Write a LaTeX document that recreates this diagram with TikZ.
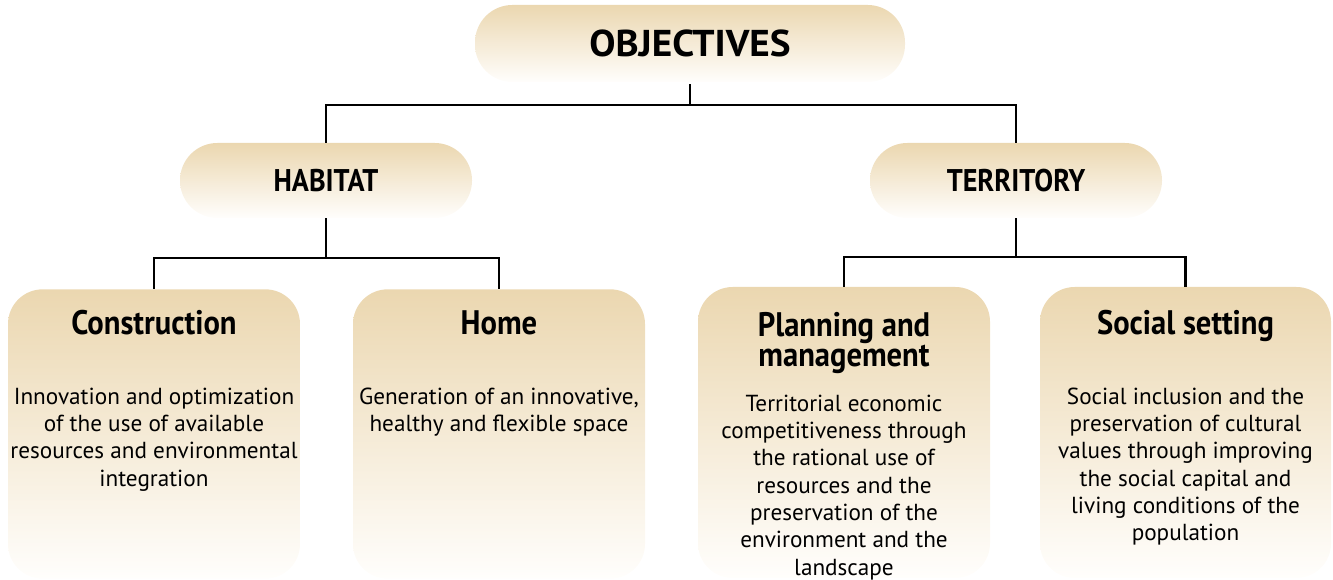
\documentclass[tikz,border=0pt]{standalone}
\usepackage{fontspec}
\setmainfont{PT Sans}
\newfontfamily\condfont{PT Sans}[FakeStretch=0.9]
\newfontfamily\widefont{PT Sans}[FakeStretch=1.05]
\definecolor{tan}{HTML}{EBD7B0}
\definecolor{tanlight}{HTML}{FFFEFC}
\begin{document}
\begin{tikzpicture}[x=0.75pt,y=-0.75pt,
  pill/.style={rectangle, rounded corners=28pt, top color=tan, bottom color=tanlight, draw=none, inner sep=0pt},
  card/.style={rectangle, rounded corners=26pt, top color=tan, bottom color=tanlight, draw=none, inner sep=0pt, minimum width=219pt, minimum height=217pt},
  pilltext/.style={font=\condfont\bfseries\fontsize{23.5}{26}\selectfont},
  titletext/.style={font=\condfont\bfseries\fontsize{25.5}{23}\selectfont, align=center, inner sep=0pt},
  desctext/.style={font=\fontsize{17.4}{20.5}\selectfont, align=center, inner sep=0pt, anchor=north},
  conn/.style={draw=black, line width=1.6pt}
]
\useasboundingbox (0,0) rectangle (1333,580);
% top level
\node[pill, minimum width=322.5pt, minimum height=57.75pt] (obj) at (690,43.5) {};
\node[font=\widefont\bfseries\fontsize{28}{30}\selectfont] (objt) at (obj.center) {OBJECTIVES};
% second level
\node[pill, minimum width=219pt, minimum height=56.25pt] (hab) at (326,180.5) {};
\node[pilltext] (habt) at (hab.center) {HABITAT};
\node[pill, minimum width=219pt, minimum height=56.25pt] (ter) at (1016,180.5) {};
\node[pilltext] (tert) at (ter.center) {TERRITORY};
% third level cards
\node[card] (con) at (154,434) {};
\node[card] (hom) at (499,434) {};
\node[card, minimum height=218.25pt] (pla) at (844,432.5) {};
\node[card, minimum width=218.25pt, minimum height=218.25pt] (soc) at (1185.5,432.5) {};
% titles
\node[titletext, anchor=base] (cont) at (154,335) {Construction};
\node[titletext, anchor=base] (homt) at (499,335) {Home};
\node[titletext] (plat) at (844,343) {Planning and\\management};
\node[titletext, anchor=base] (soct) at (1185.5,335) {Social setting};
% descriptions
\node[desctext] (cond) at (154,387.5) {Innovation and optimization\\of the use of available\\resources and environmental\\integration};
\node[desctext] (homd) at (499,387.5) {Generation of an innovative,\\healthy and flexible space};
\node[desctext] (plad) at (844,394.5) {Territorial economic\\competitiveness through\\the rational use of\\resources and the\\preservation of the\\environment and the\\landscape};
\node[desctext] (socd) at (1185.5,387.5) {Social inclusion and the\\preservation of cultural\\values through improving\\the social capital and\\living conditions of the\\population};
% connectors
\coordinate (j1) at (690,105);
\coordinate (j2) at (326,258);
\coordinate (j3) at (1016,257);
\draw[conn] ([yshift=-1.5pt]obj.south) -- (j1);
\draw[conn] (j1) -| (hab.north);
\draw[conn] (j1) -| (ter.north);
\draw[conn] (hab.south) -- (j2);
\draw[conn] (j2) -| (con.north);
\draw[conn] (j2) -| (hom.north);
\draw[conn] (ter.south) -- (j3);
\draw[conn] (j3) -| (pla.north);
\draw[conn] (j3) -| (soc.north);
\end{tikzpicture}
\end{document}
